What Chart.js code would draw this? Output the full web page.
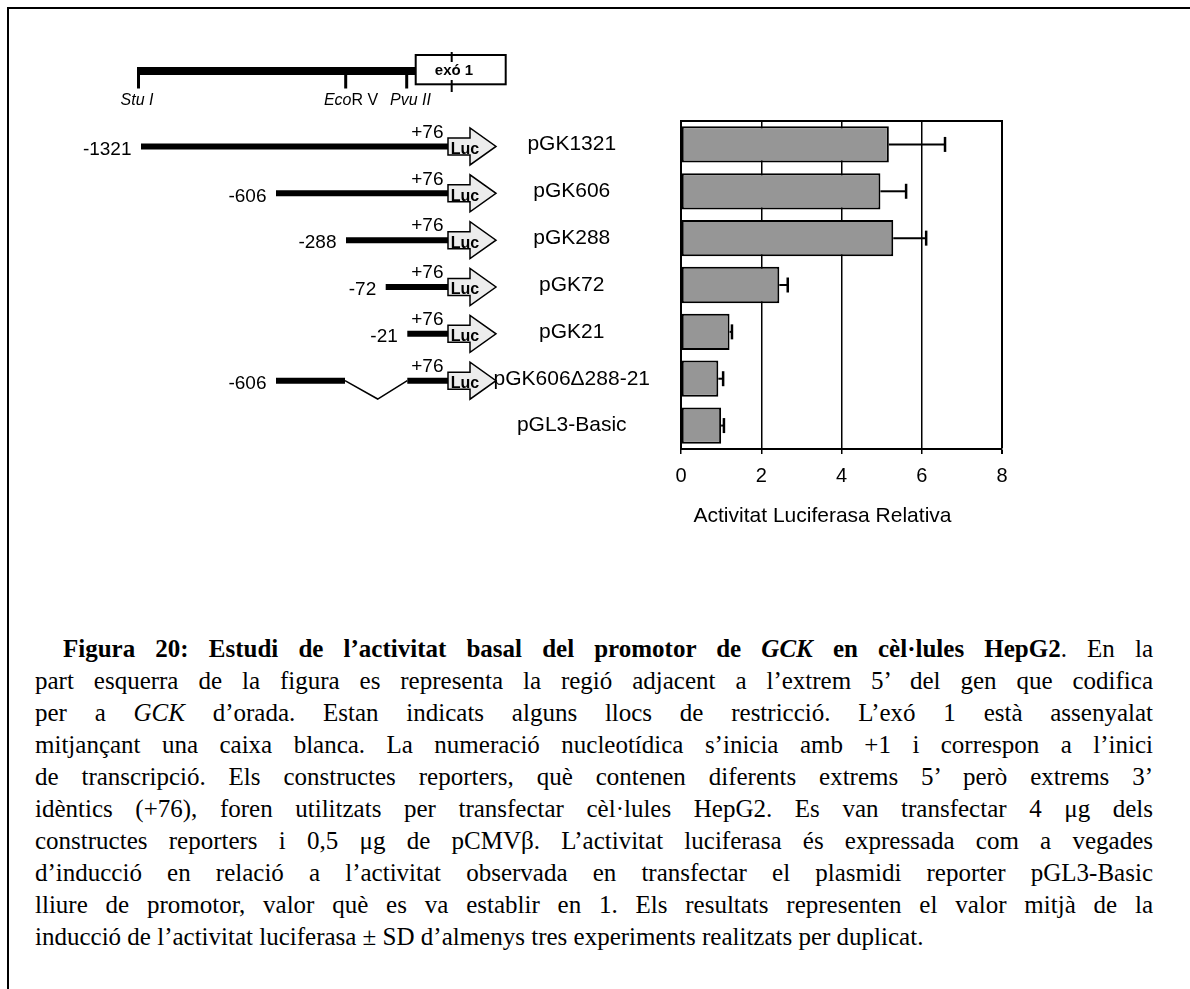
<!DOCTYPE html>
<html>
<head>
<meta charset="utf-8">
<script src="https://cdn.jsdelivr.net/npm/chart.js@4.4.0/dist/chart.umd.min.js"></script>
<style>
  html, body { margin: 0; padding: 0; background: #fff; }
  body { width: 1190px; height: 989px; position: relative; overflow: hidden; }
  #frame { position: absolute; left: 7px; top: 7px; width: 1300px; height: 1100px;
           border-top: 2px solid #000; border-left: 2px solid #000; }
  #chartBox { position: absolute; left: 0; top: 0; width: 1190px; height: 560px; }
  #caption { position: absolute; left: 35px; top: 633px; width: 1118px;
             font-family: "Liberation Serif", "Times New Roman", serif;
             font-size: 25px; line-height: 32px; color: #000; }
  #caption div { text-align: justify; text-align-last: justify; }
  #caption div.first { text-indent: 28px; }
  #caption div.last { text-align-last: left; }
</style>
</head>
<body>
<div id="frame"></div>
<div id="chartBox"><canvas id="luc" width="1190" height="560"></canvas></div>
<div id="caption">
  <div class="first"><b>Figura 20: Estudi de l’activitat basal del promotor de <i>GCK</i> en cèl·lules HepG2</b>. En la</div>
  <div>part esquerra de la figura es representa la regió adjacent a l’extrem 5’ del gen que codifica</div>
  <div>per a <i>GCK</i> d’orada. Estan indicats alguns llocs de restricció. L’exó 1 està assenyalat</div>
  <div>mitjançant una caixa blanca. La numeració nucleotídica s’inicia amb +1 i correspon a l’inici</div>
  <div>de transcripció. Els constructes reporters, què contenen diferents extrems 5’ però extrems 3’</div>
  <div>idèntics (+76), foren utilitzats per transfectar cèl·lules HepG2. Es van transfectar 4 μg dels</div>
  <div>constructes reporters i 0,5 μg de pCMVβ. L’activitat luciferasa és expressada com a vegades</div>
  <div>d’inducció en relació a l’activitat observada en transfectar el plasmidi reporter pGL3-Basic</div>
  <div>lliure de promotor, valor què es va establir en 1. Els resultats representen el valor mitjà de la</div>
  <div class="last">inducció de l’activitat luciferasa ± SD d’almenys tres experiments realitzats per duplicat.</div>
</div>
<script>
// constructs, top to bottom
const constructs = ['pGK1321', 'pGK606', 'pGK288', 'pGK72', 'pGK21', 'pGK606\u0394288-21', 'pGL3-Basic'];
const activity = [5.18, 4.97, 5.29, 2.45, 1.21, 0.93, 1.00];
const activitySD = [1.40, 0.64, 0.82, 0.21, 0.06, 0.12, 0.07];
const startLabels = ['-1321', '-606', '-288', '-72', '-21', '-606', ''];
const endLabel = '+76';
const xTicks = [0, 2, 4, 6, 8];
const axisTitle = 'Activitat Luciferasa Relativa';

const SANS = '"Liberation Sans", Arial, sans-serif';
Chart.defaults.font.family = SANS;
Chart.defaults.color = '#000';

// drawing of the promoter map and the constructs (left part of the figure)
const schematic = {
    id: 'schematic',
    afterDraw(chart) {
        const ctx = chart.ctx;
        const yScale = chart.scales.y;
        ctx.save();
        ctx.strokeStyle = '#000';
        ctx.fillStyle = '#000';
        ctx.lineCap = 'butt';

        // genomic region
        ctx.lineWidth = 8;
        ctx.beginPath(); ctx.moveTo(137, 71); ctx.lineTo(416, 71); ctx.stroke();
        ctx.lineWidth = 3;
        [[138.5, 71], [345.7, 74], [406.7, 74]].forEach(([x, y0]) => {
            ctx.beginPath(); ctx.moveTo(x, y0); ctx.lineTo(x, 88.5); ctx.stroke();
        });
        ctx.lineWidth = 2;
        ctx.fillStyle = '#fff';
        ctx.fillRect(415.7, 55, 90, 29.3);
        ctx.strokeRect(415.7, 55, 90, 29.3);
        ctx.beginPath(); ctx.moveTo(451.7, 52); ctx.lineTo(451.7, 92); ctx.stroke();
        ctx.textBaseline = 'middle';
        ctx.textAlign = 'center';
        ctx.font = 'bold 15px ' + SANS;
        const exW = ctx.measureText('exó 1').width;
        ctx.fillStyle = '#fff';
        ctx.fillRect(454 - exW / 2 - 1, 62, exW + 2, 18);
        ctx.fillStyle = '#000';
        ctx.fillText('exó 1', 454, 71);

        ctx.font = 'italic 16px ' + SANS;
        ctx.fillText('Stu I', 137, 101);
        ctx.fillText('Pvu II', 410.5, 101);
        const ecoA = 'Eco', ecoB = 'R V';
        const wA = ctx.measureText(ecoA).width;
        ctx.font = '16px ' + SANS;
        const wB = ctx.measureText(ecoB).width;
        const ex = 351 - (wA + wB) / 2;
        ctx.textAlign = 'left';
        ctx.font = 'italic 16px ' + SANS;
        ctx.fillText(ecoA, ex, 101);
        ctx.font = '16px ' + SANS;
        ctx.fillText(ecoB, ex + wA, 101);

        // constructs
        const lineStart = [141, 276, 346, 385.7, 407.3, 276];
        const lineEnd = 448;
        constructs.forEach((name, i) => {
            if (!startLabels[i]) return;
            const cy = yScale.getPixelForValue(i) + 2;
            ctx.strokeStyle = '#000';
            ctx.lineWidth = 6;
            if (i === 5) {
                ctx.beginPath(); ctx.moveTo(lineStart[i], cy); ctx.lineTo(345, cy); ctx.stroke();
                ctx.beginPath(); ctx.moveTo(407.3, cy); ctx.lineTo(lineEnd, cy); ctx.stroke();
                ctx.lineWidth = 1.5;
                ctx.beginPath();
                ctx.moveTo(345, cy); ctx.lineTo(377.7, cy + 18.3); ctx.lineTo(407.3, cy);
                ctx.stroke();
            } else {
                ctx.beginPath(); ctx.moveTo(lineStart[i], cy); ctx.lineTo(lineEnd, cy); ctx.stroke();
            }
            // Luc arrow
            const x0 = lineEnd;
            ctx.beginPath();
            ctx.moveTo(x0, cy - 8.5);
            ctx.lineTo(x0 + 22, cy - 8.5);
            ctx.lineTo(x0 + 22, cy - 18.5);
            ctx.lineTo(x0 + 48, cy);
            ctx.lineTo(x0 + 22, cy + 18.5);
            ctx.lineTo(x0 + 22, cy + 8.5);
            ctx.lineTo(x0, cy + 8.5);
            ctx.closePath();
            ctx.fillStyle = '#ececec';
            ctx.fill();
            ctx.lineWidth = 1.5;
            ctx.stroke();
            ctx.fillStyle = '#000';
            ctx.textAlign = 'center';
            ctx.font = 'bold 16px ' + SANS;
            ctx.fillText('Luc', x0 + 17, cy + 3);

            ctx.font = '19px ' + SANS;
            ctx.textAlign = 'right';
            ctx.fillText(endLabel, 443.5, cy - 14);
            ctx.fillText(startLabels[i], lineStart[i] - 9.5, cy + 3);
        });
        ctx.restore();
    }
};

// SD whiskers, top line of the plot box and the x axis title
const extras = {
    id: 'extras',
    afterDatasetsDraw(chart) {
        const ctx = chart.ctx;
        const xs = chart.scales.x, ys = chart.scales.y;
        ctx.save();
        ctx.strokeStyle = '#000';
        activity.forEach((v, i) => {
            const cy = ys.getPixelForValue(i);
            const x0 = xs.getPixelForValue(v);
            const x1 = xs.getPixelForValue(v + activitySD[i]);
            ctx.lineWidth = 2;
            ctx.beginPath(); ctx.moveTo(x0, cy); ctx.lineTo(x1, cy); ctx.stroke();
            ctx.lineWidth = 2.5;
            ctx.beginPath(); ctx.moveTo(x1, cy - 7.5); ctx.lineTo(x1, cy + 7.5); ctx.stroke();
        });
        const a = chart.chartArea;
        ctx.lineWidth = 2;
        ctx.beginPath(); ctx.moveTo(a.left, a.top); ctx.lineTo(a.right + 1, a.top); ctx.stroke();

        ctx.fillStyle = '#000';
        ctx.font = '21px ' + SANS;
        ctx.textAlign = 'center';
        ctx.textBaseline = 'middle';
        ctx.fillText(axisTitle, (a.left + a.right) / 2 - 19, xs.bottom - 44);
        ctx.restore();
    }
};

new Chart(document.getElementById('luc'), {
    type: 'bar',
    data: {
        labels: constructs,
        datasets: [{
            data: activity,
            backgroundColor: '#969696',
            borderColor: '#000',
            borderWidth: 2,
            borderSkipped: false,
            barPercentage: 0.775,
            categoryPercentage: 1
        }]
    },
    options: {
        indexAxis: 'y',
        responsive: false,
        animation: false,
        devicePixelRatio: 1,
        layout: { padding: { left: 451, right: 188, top: 121, bottom: 0 } },
        plugins: { legend: { display: false }, tooltip: { enabled: false } },
        scales: {
            x: {
                min: xTicks[0],
                max: xTicks[xTicks.length - 1],
                afterBuildTicks: s => { s.ticks = xTicks.map(v => ({ value: v })); },
                afterFit: s => { s.height = 111; },
                grid: {
                    color: '#000',
                    lineWidth: c => (c.tick && c.tick.value === 8 ? 2 : 1.5),
                    drawTicks: true,
                    tickLength: 5
                },
                border: { display: true, color: '#000', width: 2 },
                ticks: { font: { size: 20 }, color: '#000', padding: 10 },
                title: { display: false, text: axisTitle }
            },
            y: {
                afterFit: s => { s.width = 230; },
                grid: { display: false, drawTicks: false },
                border: { display: true, color: '#000', width: 2 },
                ticks: { font: { size: 21 }, color: '#000', padding: 31, crossAlign: 'center' }
            }
        }
    },
    plugins: [extras, schematic]
});
</script>
</body>
</html>
